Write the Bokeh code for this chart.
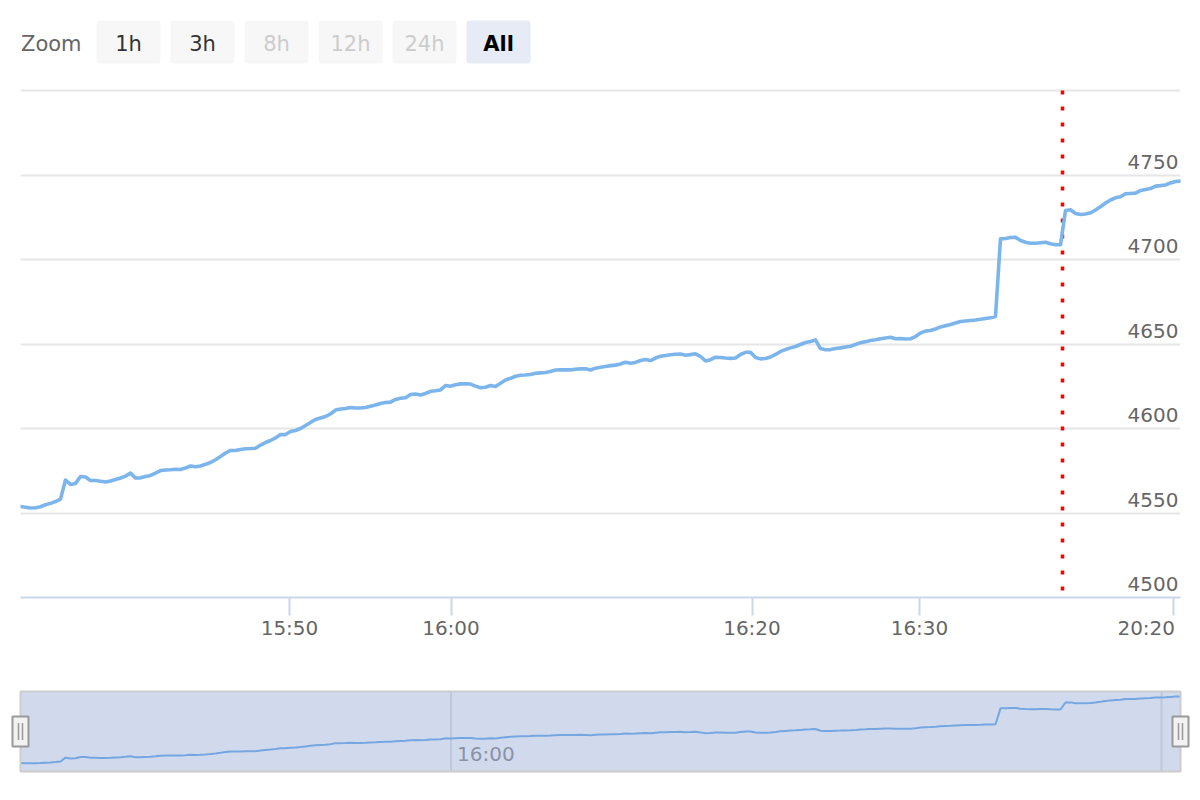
from bokeh.plotting import figure
from bokeh.models import Range1d, FixedTicker, Grid
from bokeh.embed import file_html
from bokeh.resources import INLINE
from bokeh.core.properties import value

# ---------------- data (ordinal positions, one point per slot) ----------------
values = [
    4553.8, 4553.4, 4553.0, 4553.1, 4553.7, 4554.9, 4555.7, 4556.8, 4558.2, 4569.5,
    4566.9, 4567.5, 4571.6, 4571.3, 4569.2, 4569.2, 4568.8, 4568.3, 4568.9, 4569.8,
    4570.7, 4571.8, 4573.6, 4570.7, 4570.8, 4571.6, 4572.2, 4573.6, 4575.1, 4575.4,
    4575.6, 4575.9, 4575.7, 4576.6, 4577.8, 4577.4, 4577.8, 4578.8, 4579.9, 4581.5,
    4583.4, 4585.5, 4587.0, 4587.0, 4587.6, 4588.0, 4588.2, 4588.3, 4590.2, 4591.7,
    4592.9, 4594.4, 4596.4, 4596.4, 4598.2, 4598.8, 4600.0, 4601.8, 4603.6, 4605.3,
    4606.2, 4607.1, 4608.6, 4610.9, 4611.5, 4611.8, 4612.4, 4612.1, 4612.1, 4612.4,
    4613.2, 4613.9, 4614.8, 4615.4, 4615.6, 4617.2, 4617.9, 4618.2, 4620.1, 4620.4,
    4619.8, 4620.7, 4622.0, 4622.3, 4622.8, 4625.4, 4625.0, 4625.9, 4626.4, 4626.4,
    4626.3, 4625.1, 4624.1, 4624.4, 4625.4, 4624.9, 4626.8, 4628.7, 4629.7, 4630.9,
    4631.5, 4631.7, 4632.0, 4632.7, 4632.9, 4633.1, 4633.7, 4634.6, 4634.7, 4634.7,
    4634.7, 4635.1, 4635.4, 4635.3, 4634.6, 4635.7, 4636.2, 4636.7, 4637.2, 4637.5,
    4638.2, 4639.2, 4638.6, 4639.1, 4640.2, 4640.8, 4640.2, 4641.7, 4642.8, 4643.2,
    4643.6, 4643.9, 4644.1, 4643.3, 4643.7, 4644.2, 4642.6, 4640.0, 4640.7, 4642.2,
    4642.0, 4641.7, 4641.5, 4641.7, 4643.8, 4645.1, 4645.1, 4642.0, 4641.2, 4641.4,
    4642.3, 4643.8, 4645.6, 4646.7, 4647.7, 4648.5, 4649.7, 4650.9, 4651.5, 4652.4,
    4647.3, 4646.6, 4646.7, 4647.3, 4647.7, 4648.2, 4648.7, 4649.7, 4650.8, 4651.4,
    4652.1, 4652.5, 4653.1, 4653.6, 4654.0, 4653.1, 4653.3, 4653.0, 4653.1, 4654.4,
    4656.5, 4657.6, 4658.0, 4658.9, 4660.1, 4660.8, 4661.5, 4662.4, 4663.3, 4663.6,
    4663.9, 4664.2, 4664.6, 4665.1, 4665.5, 4666.3, 4712.2, 4712.4, 4713.0, 4713.1,
    4711.2, 4710.2, 4709.6, 4709.6, 4709.9, 4710.2, 4709.3, 4708.7, 4708.7, 4729.0,
    4729.4, 4727.2, 4726.6, 4726.9, 4727.6, 4729.3, 4731.2, 4733.4, 4735.2, 4736.5,
    4737.1, 4738.9, 4739.1, 4739.3, 4740.8, 4741.4, 4742.0, 4743.4, 4743.7, 4744.1,
    4745.3, 4746.2, 4746.4,
]
positions = list(range(len(values)))

x_tick_positions = [53.8, 86.1, 146.3, 179.8, 230.6]
x_tick_labels = ["15:50", "16:00", "16:20", "16:30", "20:20"]

y_grid_values = [4500, 4550, 4600, 4650, 4700, 4750, 4800]
y_label_values = [4500, 4550, 4600, 4650, 4700, 4750]
y_label_texts = ["4500", "4550", "4600", "4650", "4700", "4750"]
y_min, y_max = 4500, 4800

plot_line_position = 208.4

nav_tick_positions = [86.1, 228.2]
nav_tick_labels = ["16:00", ""]
nav_min, nav_max = 4529.4, 4760.9

buttons = ["1h", "3h", "8h", "12h", "24h", "All"]
button_states = ["normal", "normal", "disabled", "disabled", "disabled", "selected"]

# ---------------- layout constants ----------------
W = 1200
FONT = "DejaVu Sans"
N = len(values)
FRAME_L, FRAME_R = 20, 20
PX = (W - FRAME_L - FRAME_R) / (N - 1)  # px per ordinal slot

# ---------------- header: range selector ----------------
HDR_H = 68
hdr = figure(width=W, height=HDR_H, x_range=Range1d(FRAME_L, W - FRAME_R), y_range=Range1d(HDR_H, 0),
             toolbar_location=None, output_backend="svg",
             min_border_left=FRAME_L, min_border_right=FRAME_R, min_border_top=0, min_border_bottom=0,
             x_axis_location=None, y_axis_location=None, outline_line_color=None)
hdr.grid.visible = False

BTN_W, BTN_GAP, BTN_X0, BTN_TOP, BTN_BOT = 64, 10, 96, 20, 63
TEXT_Y = 43
lefts = [BTN_X0 + k * (BTN_W + BTN_GAP) for k in range(len(buttons))]
rights = [l + BTN_W for l in lefts]
centers = [l + BTN_W / 2 for l in lefts]
fill_map = {"normal": "#f7f7f7", "disabled": "#f7f7f7", "selected": "#e6ebf5"}
text_map = {"normal": "#333333", "disabled": "#cccccc", "selected": "#000000"}
style_map = {"normal": "normal", "disabled": "normal", "selected": "bold"}
hdr.quad(left=lefts, right=rights, top=[BTN_TOP] * len(buttons), bottom=[BTN_BOT] * len(buttons),
         fill_color=[fill_map[s] for s in button_states], line_color=None, border_radius=3)
hdr.text(x=centers, y=[TEXT_Y] * len(buttons), text=buttons, text_align="center",
         text_baseline="alphabetic", text_font=value(FONT), text_font_size="21px",
         text_color=[text_map[s] for s in button_states],
         text_font_style=[style_map[s] for s in button_states])
hdr.text(x=[20.5], y=[TEXT_Y], text=["Zoom"], text_align="left", text_baseline="alphabetic",
         text_font=value(FONT), text_font_size="21px", text_color="#666666")

# ---------------- main chart ----------------
M_TOP, M_FH, M_BOT = 20, 509, 63
upp = (y_max - y_min) / (M_FH - 2)
main = figure(width=W, height=M_TOP + M_FH + M_BOT,
              x_range=Range1d(0, N - 1), y_range=Range1d(y_min, y_max + 2 * upp),
              min_border_left=FRAME_L, min_border_right=FRAME_R,
              min_border_top=M_TOP, min_border_bottom=M_BOT,
              y_axis_location=None, toolbar_location=None, output_backend="svg",
              outline_line_color=None)
main.grid.visible = False
main.add_layout(Grid(dimension=1, ticker=FixedTicker(ticks=y_grid_values),
                     grid_line_color="#e6e6e6", grid_line_width=1.8))

# the last label is kept inside the chart, as the reference does (shifted left)
shown_labels = list(x_tick_labels)
shown_labels[-1] = shown_labels[-1] + "\u00a0" * 4

ax = main.xaxis[0]
ax.ticker = FixedTicker(ticks=x_tick_positions)
ax.major_label_overrides = {p: t for p, t in zip(x_tick_positions, shown_labels)}
ax.axis_line_color = "#ccd6eb"
ax.axis_line_width = 2
ax.major_tick_line_color = "#ccd6eb"
ax.major_tick_line_width = 2
ax.major_tick_out = 18
ax.major_tick_in = 0
ax.minor_tick_out = 0
ax.minor_tick_in = 0
ax.major_label_standoff = 0
ax.major_label_text_font = FONT
ax.major_label_text_font_size = "20px"
ax.major_label_text_color = "#666666"

main.text(x=[N - 1] * len(y_label_values), y=[v + 13.5 * upp for v in y_label_values],
          text=y_label_texts, text_align="right", text_baseline="alphabetic", x_offset=-2,
          text_font=value(FONT), text_font_size="20px", text_color="#666666")

main.segment(x0=[plot_line_position], y0=[y_max], x1=[plot_line_position], y1=[y_min],
             line_color="#ff0000", line_width=3.5, line_dash="4 12")

main.line(x=positions, y=values, line_color="#7cb5ec", line_width=3.6,
          line_join="round", line_cap="round")

# ---------------- navigator ----------------
NAV_H, BOX_TOP, BOX_BOT = 132, 31, 111
upp_n = (nav_max - nav_min) / (BOX_BOT - BOX_TOP)
nav = figure(width=W, height=NAV_H,
             x_range=Range1d(-FRAME_L / PX, (W - FRAME_L) / PX),
             y_range=Range1d(nav_min - (NAV_H - BOX_BOT) * upp_n, nav_max + BOX_TOP * upp_n),
             min_border=0, x_axis_location=None, y_axis_location=None,
             toolbar_location=None, output_backend="svg", outline_line_color=None)
nav.grid.visible = False

nav.segment(x0=nav_tick_positions, y0=[nav_min] * 2, x1=nav_tick_positions, y1=[nav_max] * 2,
            line_color="#e6e6e6", line_width=2)
nav.text(x=nav_tick_positions, y=[nav_min + 18 * upp_n] * 2, text=nav_tick_labels, text_align="left",
         text_baseline="alphabetic", x_offset=6, text_font=value(FONT),
         text_font_size="20px", text_color="#999999")
nav.line(x=positions, y=values, line_color="#7cb5ec", line_width=2)
nav.quad(left=[0], right=[N - 1], bottom=[nav_min], top=[nav_max],
         fill_color="#6685c2", fill_alpha=0.3, line_color=None)
nav.quad(left=[0], right=[N - 1], bottom=[nav_min], top=[nav_max],
         fill_color=None, line_color="#cccccc", line_width=2)

mid = (nav_min + nav_max) / 2
ends = [0, N - 1]
nav.rect(x=ends, y=[mid] * 2, width=16, height=30, width_units="screen", height_units="screen",
         fill_color="#f2f2f2", line_color="#999999", line_width=2)
bar_x = []
for e in ends:
    bar_x += [e - 2 / PX, e + 2 / PX]
nav.segment(x0=bar_x, y0=[mid - 8.5 * upp_n] * 4, x1=bar_x, y1=[mid + 8.5 * upp_n] * 4,
            line_color="#999999", line_width=1.5)

open("out.html", "w").write(file_html([hdr, main, nav], INLINE))
